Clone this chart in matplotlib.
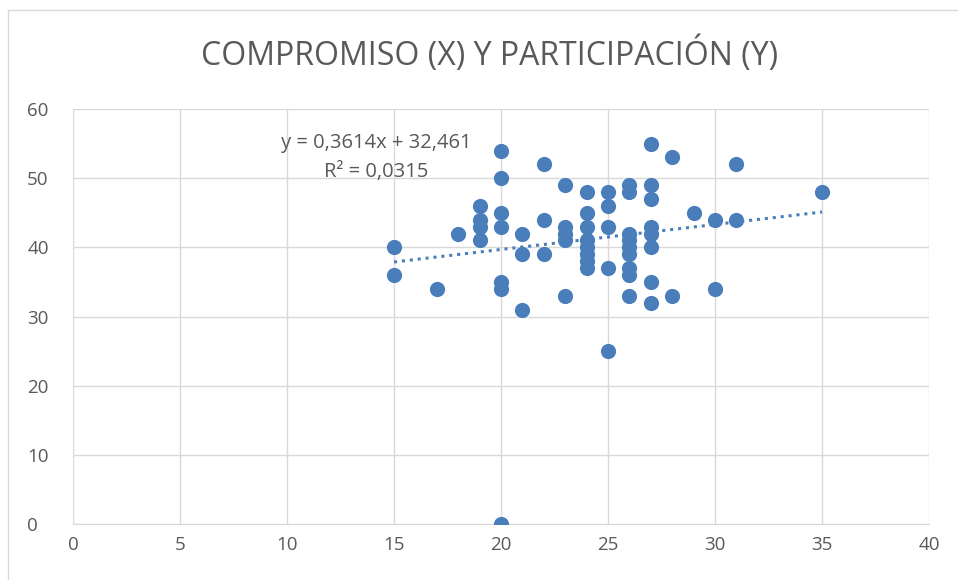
import matplotlib
matplotlib.use("Agg")
import matplotlib.pyplot as plt
from matplotlib.patches import Rectangle
import numpy as np

# ── Data ─────────────────────────────────────────────
compromiso = [15, 15, 17, 18, 19, 19, 19, 19,
              20, 20, 20, 20, 20, 20, 20,
              21, 21, 21, 22, 22, 22,
              23, 23, 23, 23, 23,
              24, 24, 24, 24, 24, 24, 24, 24,
              25, 25, 25, 25, 25,
              26, 26, 26, 26, 26, 26, 26, 26, 26,
              27, 27, 27, 27, 27, 27, 27, 27,
              28, 28, 29, 30, 30, 31, 31, 35]
participacion = [40, 36, 34, 42, 46, 44, 43, 41,
                 54, 50, 45, 43, 35, 34, 0,
                 42, 39, 31, 52, 44, 39,
                 49, 43, 42, 41, 33,
                 48, 45, 43, 41, 40, 39, 38, 37,
                 48, 46, 43, 37, 25,
                 49, 48, 42, 41, 40, 39, 37, 36, 33,
                 55, 49, 47, 43, 42, 40, 35, 32,
                 53, 33, 45, 44, 34, 52, 44, 48]
slope, intercept = 0.3614, 32.461
x_ticks = [0, 5, 10, 15, 20, 25, 30, 35, 40]
y_ticks = [0, 10, 20, 30, 40, 50, 60]

# ── Style ────────────────────────────────────────────
plt.rcParams["font.family"] = ["Open Sans", "DejaVu Sans"]
DOT = "#4A7EBB"
GRID = "#D9D9D9"
TXT = "#595959"

fig = plt.figure(figsize=(9.58, 5.8), dpi=100, facecolor="white")
fig.patches.append(Rectangle((8 / 958, -0.05), 1.0, 1 - 10 / 580 + 0.05,
                             transform=fig.transFigure, fill=False,
                             edgecolor="#D9D9D9", linewidth=1))

ax = fig.add_axes([73 / 958, 56 / 580, (929 - 73) / 958, (524 - 109) / 580])
ax.scatter(compromiso, participacion, s=120, color=DOT, zorder=3, linewidths=0)

xs = np.array([min(compromiso), max(compromiso)])
ax.plot(xs, slope * xs + intercept, color=DOT, linestyle=(0, (1, 1.6)),
        linewidth=2.2, zorder=2)

ax.set_xlim(0, 40)
ax.set_ylim(0, 60)
ax.set_xticks(x_ticks)
ax.set_yticks(y_ticks)
ax.grid(True, color=GRID, linewidth=1)
ax.set_axisbelow(True)
for s in ["top", "right", "left"]:
    ax.spines[s].set_visible(False)
ax.spines["bottom"].set_color(GRID)
ax.tick_params(length=0, labelsize=13.5, labelcolor=TXT, pad=9)
ax.tick_params(axis="y", pad=33)
for lbl in ax.get_yticklabels():
    lbl.set_horizontalalignment("left")

fig.text(490 / 958, 1 - 55 / 580, "COMPROMISO (X) Y PARTICIPACIÓN (Y)",
         ha="center", va="center", fontsize=23, color=TXT)
fig.text(376 / 958, 1 - 143 / 580, f"y = {slope:.4f}x + {intercept:.3f}".replace(".", ","),
         ha="center", va="center", fontsize=14.5, color=TXT)
fig.text(376 / 958, 1 - 172 / 580, "R² = 0,0315",
         ha="center", va="center", fontsize=14.5, color=TXT)

fig.savefig("out.png", dpi=100)
